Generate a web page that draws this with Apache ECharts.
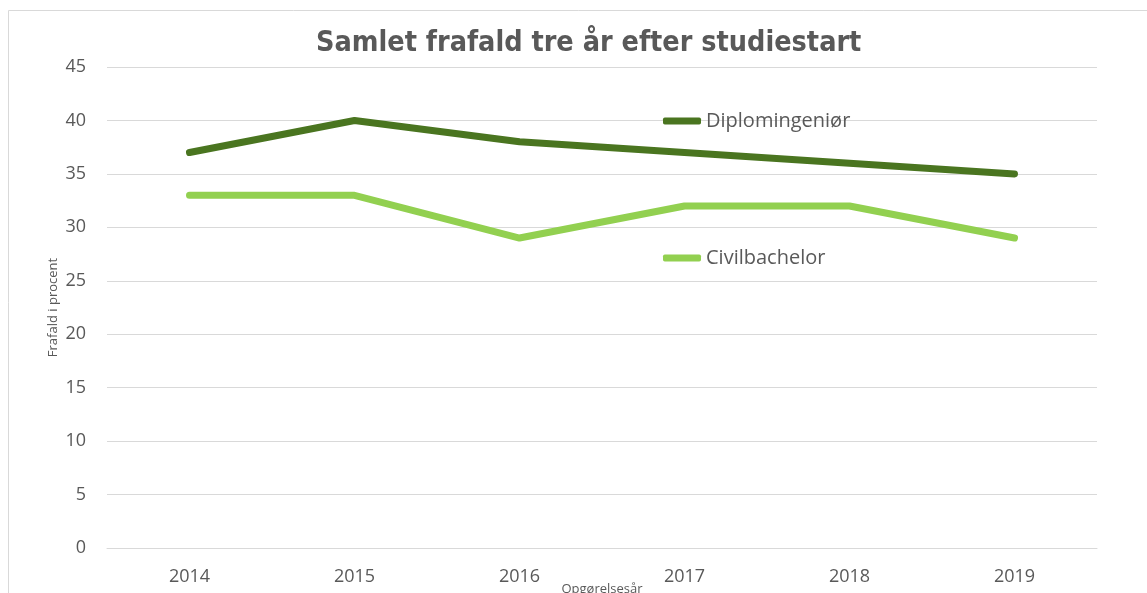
<!DOCTYPE html>
<html>
<head>
<meta charset="utf-8">
<script src="https://cdn.jsdelivr.net/npm/echarts@6/dist/echarts.min.js"></script>
<style>
  html, body { margin: 0; padding: 0; background: #fff; }
  #chart { width: 1147px; height: 593px; }
</style>
</head>
<body>
<div id="chart"></div>
<script>
// data
var years = ["2014", "2015", "2016", "2017", "2018", "2019"];
var diplomingenior = [37, 40, 38, 37, 36, 35];
var civilbachelor = [33, 33, 29, 32, 32, 29];

var textColor = "#595959";
var gridColor = "#d9d9d9";

var chart = echarts.init(document.getElementById("chart"));

var option = {
	animation: false,
	textStyle: { fontFamily: "Open Sans" },
	title: {
		text: "Samlet frafald tre år efter studiestart",
		left: 311,
		top: 24,
		textStyle: {
			fontFamily: "DejaVu Sans Condensed",
			fontWeight: "bold",
			fontSize: 28.5,
			color: textColor
		}
	},
	graphic: [{
		type: "rect",
		shape: { x: 8.5, y: 10.5, width: 1300, height: 700 },
		style: { fill: null, stroke: gridColor, lineWidth: 1 },
		silent: true,
		z: -10
	}],
	legend: [{
		data: ["Diplomingeniør"],
		left: 658,
		top: 106,
		icon: "roundRect",
		itemWidth: 38,
		itemHeight: 7,
		itemGap: 10,
		textStyle: { fontSize: 20, color: textColor, fontFamily: "Open Sans" }
	}, {
		data: ["Civilbachelor"],
		left: 658,
		top: 243,
		icon: "roundRect",
		itemWidth: 38,
		itemHeight: 7,
		textStyle: { fontSize: 20, color: textColor, fontFamily: "Open Sans" }
	}],
	grid: { left: 107, right: 50, top: 67, bottom: 45, outerBoundsMode: "none", containLabel: false },
	xAxis: {
		type: "category",
		data: years,
		boundaryGap: true,
		name: "Opgørelsesår",
		nameLocation: "middle",
		nameGap: 35,
		nameMoveOverlap: false,
		nameTextStyle: { fontSize: 13, color: textColor },
		axisLine: { lineStyle: { color: gridColor, width: 1 } },
		axisTick: { show: false },
		axisLabel: { fontSize: 18, color: textColor, margin: 20 }
	},
	yAxis: {
		type: "value",
		min: 0,
		max: 45,
		interval: 5,
		name: "Frafald i procent",
		nameLocation: "middle",
		nameGap: 47,
		nameMoveOverlap: false,
		nameTextStyle: { fontSize: 13, color: textColor },
		axisLine: { show: false },
		axisTick: { show: false },
		axisLabel: { fontSize: 18, color: textColor, margin: 21 },
		splitLine: { lineStyle: { color: gridColor, width: 1 } }
	},
	series: [{
		name: "Diplomingeniør",
		type: "line",
		data: diplomingenior,
		symbol: "none",
		lineStyle: { width: 7, color: "#4a7520", cap: "round", join: "round" },
		itemStyle: { color: "#4a7520" }
	}, {
		name: "Civilbachelor",
		type: "line",
		data: civilbachelor,
		symbol: "none",
		lineStyle: { width: 7, color: "#92d050", cap: "round", join: "round" },
		itemStyle: { color: "#92d050" }
	}]
};

chart.setOption(option);
</script>
</body>
</html>
